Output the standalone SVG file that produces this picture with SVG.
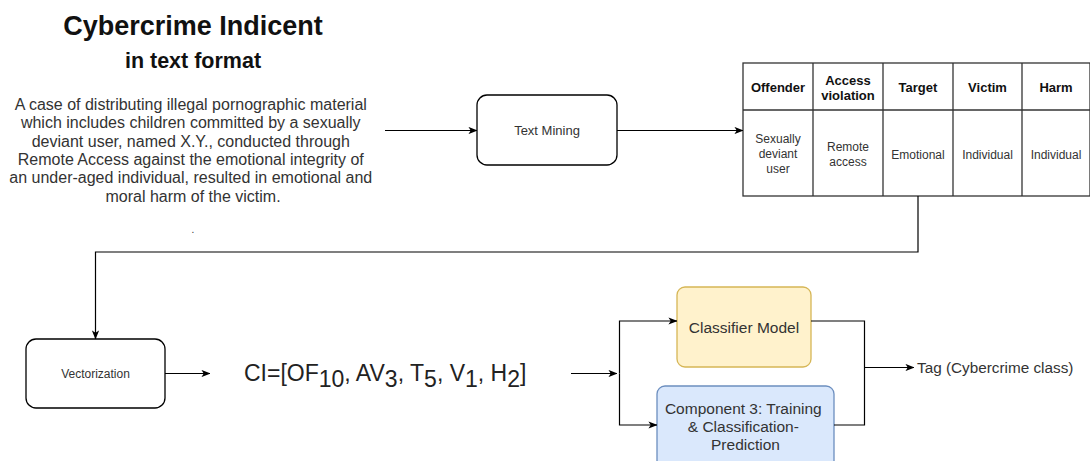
<svg xmlns="http://www.w3.org/2000/svg" width="1090" height="461" viewBox="0 0 1090 461">
  <defs>
    <marker id="arrow" viewBox="0 0 10 8" refX="9.5" refY="4" markerWidth="9" markerHeight="7.5" markerUnits="userSpaceOnUse" orient="auto">
      <path d="M0,0 L10,4 L0,8 L2.5,4 Z" fill="#000"/>
    </marker>
    <style>
      .t { font-family: "Liberation Sans", Arial, sans-serif; fill: #333; }
      .c { text-anchor: middle; }
      .b { font-weight: bold; fill: #111; }
      .box { fill: #fff; stroke: #000; stroke-width: 1.3; }
      .grid { fill: none; stroke: #333; stroke-width: 1.3; }
      .edge { fill: none; stroke: #000; stroke-width: 1.2; }
      .arr { marker-end: url(#arrow); }
    </style>
  </defs>
  <rect width="1090" height="461" fill="#fff"/>

  <!-- Incident description -->
  <g id="incident">
    <text class="t c b" x="193" y="35" font-size="27">Cybercrime Indicent</text>
    <text class="t c b" x="193" y="68" font-size="21.5">in text format</text>
    <text class="t c" font-size="16" x="193">
      <tspan x="193" y="110">A case of distributing illegal pornographic material</tspan>
      <tspan x="193" y="128.3">which includes children committed by a sexually</tspan>
      <tspan x="193" y="146.6">deviant user, named X.Y., conducted through</tspan>
      <tspan x="193" y="164.9">Remote Access against the emotional integrity of</tspan>
      <tspan x="193" y="183.2">an under-aged individual, resulted in emotional and</tspan>
      <tspan x="193" y="201.5">moral harm of the victim.</tspan>
    </text>
    <text class="t c" x="193" y="233" font-size="10">.</text>
  </g>

  <!-- Text mining step -->
  <g id="text-mining">
    <rect class="box" x="477" y="95" width="140" height="70" rx="10"/>
    <text class="t c" x="547" y="135" font-size="13">Text Mining</text>
  </g>

  <!-- Extracted attributes table -->
  <g id="attributes-table">
    <rect class="grid" x="743" y="63" width="347" height="133" fill="#fff"/>
    <line class="grid" x1="743" y1="110" x2="1090" y2="110"/>
    <line class="grid" x1="813" y1="63" x2="813" y2="196"/>
    <line class="grid" x1="883" y1="63" x2="883" y2="196"/>
    <line class="grid" x1="953" y1="63" x2="953" y2="196"/>
    <line class="grid" x1="1022" y1="63" x2="1022" y2="196"/>
    <g class="t c b" font-size="13">
      <text x="778" y="92">Offender</text>
      <text x="848" y="85">Access</text>
      <text x="848" y="100">violation</text>
      <text x="918" y="92">Target</text>
      <text x="987.5" y="92">Victim</text>
      <text x="1056" y="92">Harm</text>
    </g>
    <g class="t c" font-size="12">
      <text x="778" y="143">Sexually</text>
      <text x="778" y="158">deviant</text>
      <text x="778" y="173">user</text>
      <text x="848" y="151">Remote</text>
      <text x="848" y="166">access</text>
      <text x="918" y="159">Emotional</text>
      <text x="987.5" y="159">Individual</text>
      <text x="1056" y="159">Individual</text>
    </g>
  </g>

  <!-- Vectorization step -->
  <g id="vectorization">
    <rect class="box" x="26" y="339" width="139" height="69" rx="10"/>
    <text class="t c" x="95.5" y="378" font-size="12">Vectorization</text>
  </g>

  <!-- Feature vector -->
  <g id="feature-vector">
    <text x="244" y="381" font-size="23" style="font-family:'Liberation Sans', Arial, sans-serif; fill:#222;">CI=[OF<tspan dy="6">10</tspan><tspan dy="-6">, AV</tspan><tspan dy="6">3</tspan><tspan dy="-6">, T</tspan><tspan dy="6">5</tspan><tspan dy="-6">, V</tspan><tspan dy="6">1</tspan><tspan dy="-6">, H</tspan><tspan dy="6">2</tspan><tspan dy="-6">]</tspan></text>
  </g>

  <!-- Classifier model -->
  <g id="classifier-model">
    <rect x="677" y="287" width="134" height="80" rx="8" fill="#fff2cc" stroke="#d6b656" stroke-width="1.3"/>
    <text class="t c" x="744" y="333" font-size="15.5">Classifier Model</text>
  </g>

  <!-- Training and prediction component -->
  <g id="component-3">
    <rect x="657" y="386" width="177" height="90" rx="8" fill="#dae8fc" stroke="#6c8ebf" stroke-width="1.3"/>
    <text class="t c" font-size="15.5">
      <tspan x="745.5" y="414">Component 3: Training</tspan>
      <tspan x="745.5" y="432">&amp; Classification-</tspan>
      <tspan x="745.5" y="450">Prediction</tspan>
    </text>
  </g>

  <!-- Output label -->
  <g id="tag-output">
    <text class="t" x="917" y="373" font-size="15.3">Tag (Cybercrime class)</text>
  </g>

  <!-- Connectors -->
  <g id="connectors">
    <line class="edge arr" x1="385" y1="130.5" x2="477" y2="130.5"/>
    <line class="edge arr" x1="617" y1="130.5" x2="743" y2="130.5"/>
    <polyline class="edge arr" points="918,196 918,252 95.5,252 95.5,339"/>
    <line class="edge arr" x1="165" y1="373.5" x2="210" y2="373.5"/>
    <line class="edge arr" x1="571" y1="373.5" x2="617" y2="373.5"/>
    <polyline class="edge arr" points="619.5,373.5 619.5,321 677,321"/>
    <polyline class="edge arr" points="619.5,373.5 619.5,425 657,425"/>
    <polyline class="edge" points="811,321 864.5,321 864.5,425 834,425"/>
    <line class="edge arr" x1="864.5" y1="367.5" x2="914" y2="367.5"/>
  </g>
</svg>
